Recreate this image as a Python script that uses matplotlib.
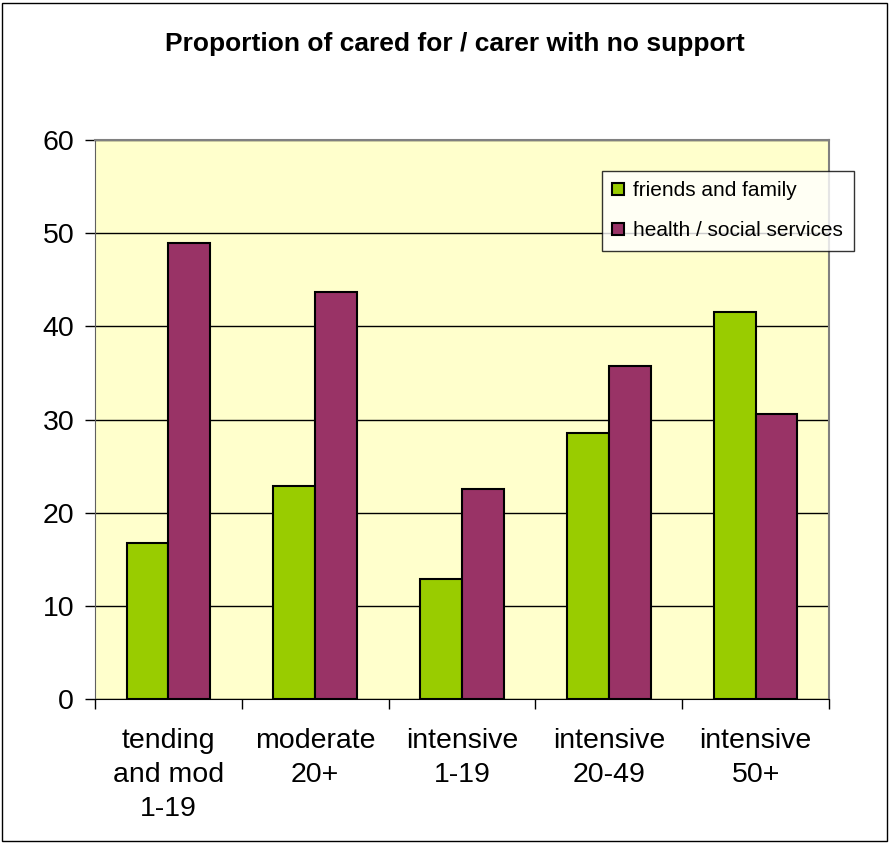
import matplotlib.pyplot as plt
import numpy as np

plt.rcParams['font.family'] = ['Liberation Sans', 'DejaVu Sans']

categories = ["tending\nand mod\n1-19", "moderate\n20+", "intensive\n1-19", "intensive\n20-49", "intensive\n50+"]
friends_family = [16.7, 22.9, 12.9, 28.5, 41.5]
health_social = [48.9, 43.7, 22.5, 35.7, 30.6]

green = "#99CC00"
purple = "#993366"

fig = plt.figure(figsize=(8.92, 8.44), dpi=100)
ax = fig.add_axes([95/892, 1-699/844, (829-95)/892, (699-140)/844])
ax.set_facecolor("#FFFFCC")

x = np.arange(len(categories))
w = 0.285
ax.bar(x - w/2, friends_family, w, color=green, edgecolor="black", linewidth=1.5, label="friends and family", zorder=3)
ax.bar(x + w/2, health_social, w, color=purple, edgecolor="black", linewidth=1.5, label="health / social services", zorder=3)

ax.set_xlim(-0.5, len(categories) - 0.5)
ax.set_ylim(0, 60)
ax.set_yticks(range(0, 61, 10))
ax.yaxis.grid(True, color="black", linewidth=1, zorder=1)

ax.set_xticks(np.arange(len(categories) + 1) - 0.5)
ax.set_xticklabels([])
ax.set_xticks(x, minor=True)
ax.set_xticklabels(categories, minor=True, fontsize=20.5, linespacing=1.4)
ax.tick_params(axis="x", which="minor", length=0, pad=21)
ax.tick_params(axis="x", which="major", length=7, width=1, color="black")
ax.tick_params(axis="y", length=7, width=1, labelsize=20.5, pad=8)

for s in ["top", "right"]:
    ax.spines[s].set_color("#808080")
    ax.spines[s].set_linewidth(1.5)
ax.spines["left"].set_color("#606060")
ax.spines["bottom"].set_color("black")

fig.text(455/892, 1-44/844, "Proportion of cared for / carer with no support",
         ha="center", va="center", fontsize=19, fontweight="bold")

leg = ax.legend(loc="upper left", bbox_to_anchor=(602/892, 1-171/844), bbox_transform=fig.transFigure,
                fontsize=15, frameon=True, fancybox=False, edgecolor="black",
                handlelength=0.55, handleheight=0.55, handletextpad=0.45, labelspacing=1.0,
                borderpad=0.5, borderaxespad=0)
leg.get_frame().set_linewidth(1)

fig.patches.append(plt.Rectangle((2/892, 3/844), 885/892, 838/844, transform=fig.transFigure,
                                 fill=False, edgecolor="black", linewidth=1))

fig.savefig("out.png", dpi=100)
